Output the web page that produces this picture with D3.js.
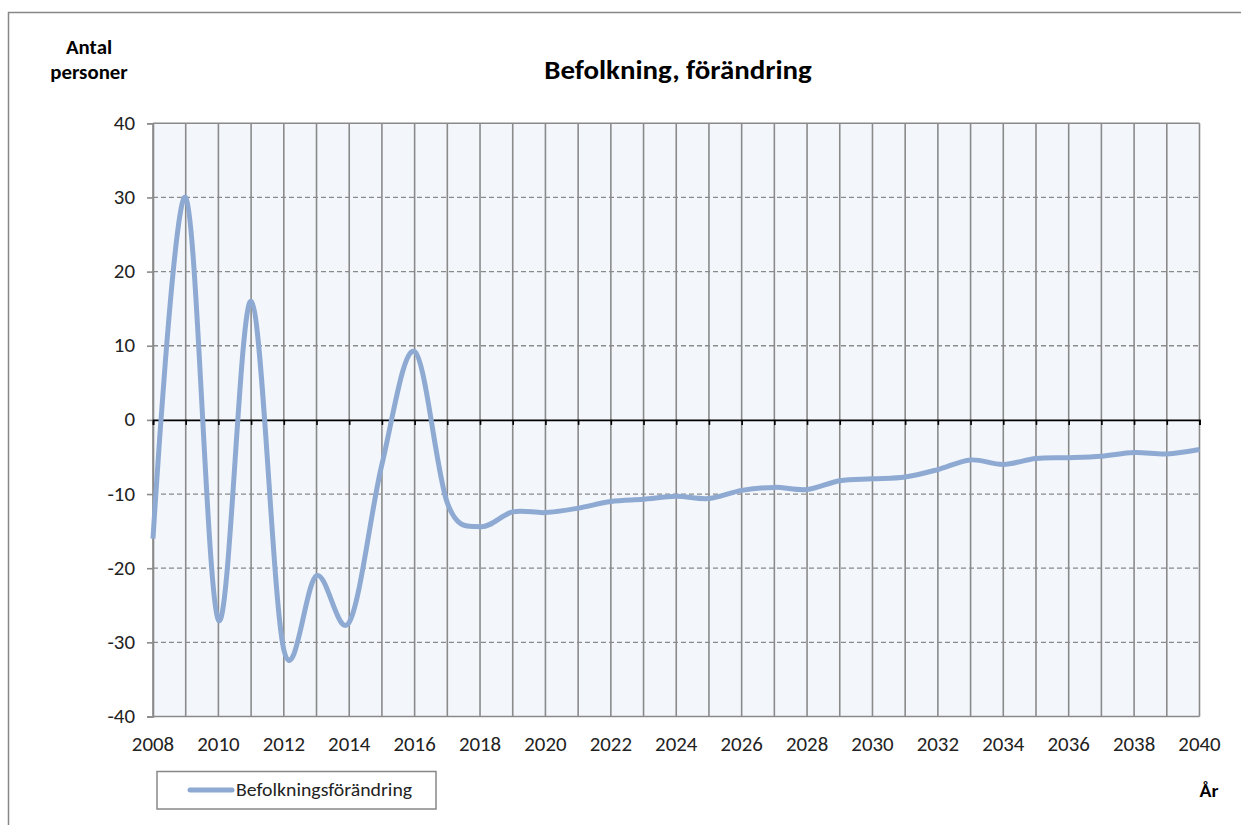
<!DOCTYPE html>
<html>
<head>
<meta charset="utf-8">
<script src="https://cdn.jsdelivr.net/npm/d3@7"></script>
<style>
  body { margin: 0; background: #fff; }
  svg { display: block; font-family: Carlito, Calibri, "Open Sans", sans-serif; }
</style>
</head>
<body>
<svg id="chart"></svg>
<script>
const years = d3.range(2008, 2041);
const values = [-16, 30, -27, 16, -31, -21, -27.3, -6, 9.2, -11.2, -14.4, -12.4, -12.5, -11.9, -11, -10.7,
  -10.3, -10.6, -9.5, -9.1, -9.4, -8.2, -7.95, -7.7, -6.7, -5.4, -6.0, -5.2, -5.1, -4.9, -4.4, -4.6, -4.0];
const yTicks = [-40, -30, -20, -10, 0, 10, 20, 30, 40];
const xLabels = d3.range(2008, 2041, 2);
const title = "Befolkning, förändring";
const seriesName = "Befolkningsförändring";

const W = 1241, H = 825;
const SX = 1.07; // the original picture is slightly stretched sideways
const svg = d3.select("#chart").attr("width", W).attr("height", H);

function txt(px, py, size, s, anchor, bold, fill) {
  return svg.append("text")
    .attr("transform", `translate(${px},${py}) scale(${SX},1)`)
    .attr("text-anchor", anchor || "start")
    .attr("font-size", size)
    .attr("font-weight", bold ? "bold" : "normal")
    .attr("fill", fill || "#000")
    .text(s);
}

// outer frame (runs past the right/bottom edge like the original)
svg.append("rect").attr("x", 8.5).attr("y", 12.5).attr("width", 1260).attr("height", 840)
  .attr("fill", "#fff").attr("stroke", "#888").attr("stroke-width", 1.5);

const pLeft = 153, pRight = 1199.5, pTop = 123.3, pBottom = 716.5;
const x = d3.scaleLinear().domain([2008, 2040]).range([pLeft, pRight]);
const y = d3.scaleLinear().domain([-40, 40]).range([pBottom, pTop]);

svg.append("rect").attr("x", pLeft).attr("y", pTop).attr("width", pRight - pLeft).attr("height", pBottom - pTop)
  .attr("fill", "#f3f7fc");

// horizontal dashed grid
svg.append("g").selectAll("line").data(yTicks.filter(d => d !== 0 && d !== -40 && d !== 40)).join("line")
  .attr("x1", pLeft).attr("x2", pRight).attr("y1", d => y(d)).attr("y2", d => y(d))
  .attr("stroke", "#8a8a8a").attr("stroke-width", 1.3).attr("stroke-dasharray", "5,3");

// vertical grid
svg.append("g").selectAll("line").data(years).join("line")
  .attr("x1", d => x(d)).attr("x2", d => x(d)).attr("y1", pTop).attr("y2", pBottom)
  .attr("stroke", "#8a8a8a").attr("stroke-width", 1.6);

// top and bottom border lines
[40, -40].forEach(v => {
  svg.append("line").attr("x1", pLeft).attr("x2", pRight).attr("y1", y(v)).attr("y2", y(v))
    .attr("stroke", "#8a8a8a").attr("stroke-width", 1.6);
});

// y axis
const yAxis = svg.append("g").attr("transform", `translate(${pLeft},0)`)
  .call(d3.axisLeft(y).tickValues(yTicks).tickSize(6).tickFormat(""));
yAxis.select(".domain").attr("stroke", "#8a8a8a").attr("stroke-width", 1.6);
yAxis.selectAll(".tick line").attr("stroke", "#8a8a8a").attr("stroke-width", 1.6);
yTicks.forEach(v => {
  txt(pLeft - 18, y(v) + 6.5, 19.5, v, "end", false, "#222");
});

// zero line with year ticks
const zeroAxis = svg.append("g").attr("transform", `translate(0,${y(0)})`)
  .call(d3.axisBottom(x).tickValues(years).tickSize(5).tickFormat(""));
zeroAxis.select(".domain").attr("stroke", "#000").attr("stroke-width", 1.6);
zeroAxis.selectAll(".tick line").attr("stroke", "#000").attr("stroke-width", 1.6);

// x labels at bottom
xLabels.forEach(v => txt(x(v), 751, 19.5, v, "middle", false, "#222"));

// series line
const line = d3.line().x((d, i) => x(years[i])).y(d => y(d)).curve(d3.curveCardinal.tension(0));
svg.append("path").datum(values).attr("d", line).attr("fill", "none")
  .attr("stroke", "#8eaad3").attr("stroke-width", 5).attr("stroke-linejoin", "round");

// titles
txt(678, 79, 27, title, "middle", true);
txt(89, 54, 19.5, "Antal", "middle", true);
txt(89, 79, 19.5, "personer", "middle", true);
txt(1209, 797, 18.5, "År", "middle", true);

// legend
svg.append("rect").attr("x", 157).attr("y", 771.5).attr("width", 279).attr("height", 37.5)
  .attr("fill", "#fff").attr("stroke", "#888").attr("stroke-width", 1.5);
svg.append("line").attr("x1", 190).attr("x2", 232).attr("y1", 790).attr("y2", 790)
  .attr("stroke", "#8eaad3").attr("stroke-width", 5).attr("stroke-linecap", "round");
txt(236, 796, 18.5, seriesName, "start", false, "#222");
</script>
</body>
</html>
